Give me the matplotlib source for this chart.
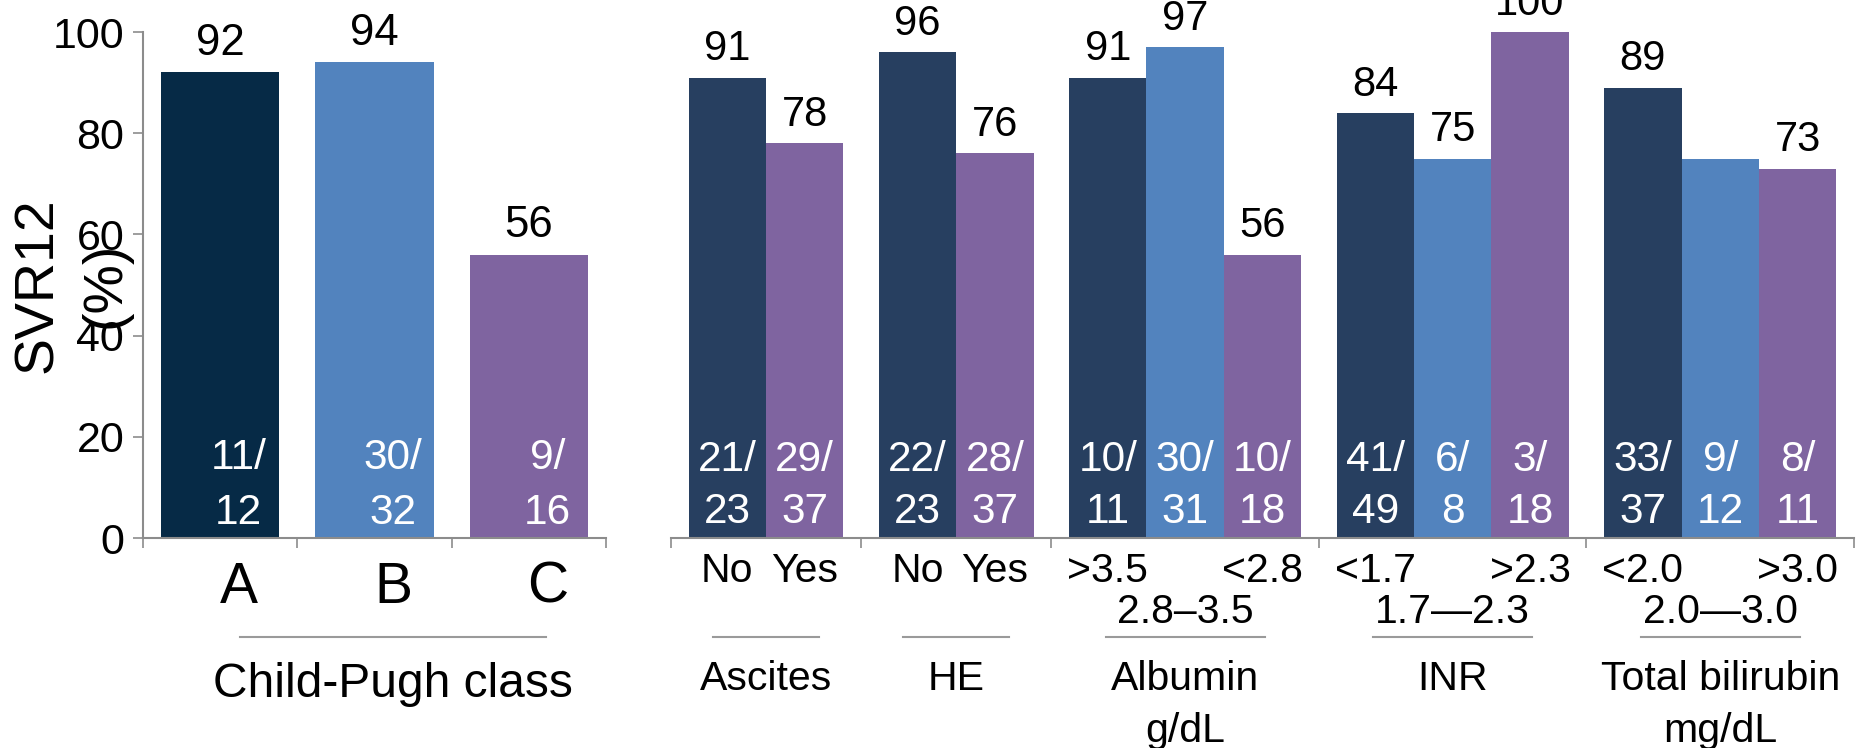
import matplotlib
matplotlib.use('Agg')
import matplotlib.pyplot as plt

plt.rcParams['font.family'] = ['Liberation Sans', 'DejaVu Sans']

# Child-Pugh class
cp_classes = ['A', 'B', 'C']
cp_svr = [92, 94, 56]
cp_counts = [('11/', '12'), ('30/', '32'), ('9/', '16')]
cp_colors = ['#062a46', '#5283be', '#7f64a0']

# Baseline characteristics
groups = ['Ascites', 'HE', 'Albumin\ng/dL', 'INR', 'Total bilirubin\nmg/dL']
sub_labels = [['No', 'Yes'], ['No', 'Yes'],
              ['>3.5', '2.8–3.5', '<2.8'],
              ['<1.7', '1.7—2.3', '>2.3'],
              ['<2.0', '2.0—3.0', '>3.0']]
svr = [[91, 78], [96, 76], [91, 97, 56], [84, 75, 100], [89, 75, 73]]
value_text = [['91', '78'], ['96', '76'], ['91', '97', '56'],
              ['84', '75', '100'], ['89', '', '73']]
counts = [[('21/', '23'), ('29/', '37')],
          [('22/', '23'), ('28/', '37')],
          [('10/', '11'), ('30/', '31'), ('10/', '18')],
          [('41/', '49'), ('6/', '8'), ('3/', '18')],
          [('33/', '37'), ('9/', '12'), ('8/', '11')]]

dark = '#273f60'
blue = '#5283be'
purple = '#7f64a0'
axis_grey = '#8c8c8c'
line_grey = '#9a9a9a'

fig = plt.figure(figsize=(18.59, 7.48), dpi=100)
ax1 = fig.add_axes([0.0769, 0.2807, 0.2491, 0.6765])
ax2 = fig.add_axes([0.3609, 0.2807, 0.6364, 0.6765])

for ax in (ax1, ax2):
    ax.set_ylim(0, 100)
    ax.spines['top'].set_visible(False)
    ax.spines['right'].set_visible(False)
    ax.spines['bottom'].set_color(axis_grey)
    ax.spines['bottom'].set_linewidth(1.5)
    ax.tick_params(axis='x', direction='out', length=7.5, width=1.2,
                   color=axis_grey, labelbottom=False)

# left panel
xs = [i + 0.5 for i in range(len(cp_classes))]
ax1.bar(xs, cp_svr, width=0.766, color=cp_colors)
ax1.set_xlim(0, 3)
ax1.set_xticks([0, 1, 2, 3])
ax1.set_yticks(range(0, 101, 20))
ax1.spines['left'].set_color(axis_grey)
ax1.spines['left'].set_linewidth(1.5)
ax1.tick_params(axis='y', direction='out', length=7.5, width=1.2,
                color=axis_grey, labelsize=31, pad=6)

shift = 0.12
for x, v, (num, den), lab in zip(xs, cp_svr, cp_counts, cp_classes):
    ax1.text(x, v + 3.4, str(v), ha='center', va='baseline', fontsize=31.5)
    ax1.text(x + 0.12, 13.6, num, ha='center', va='baseline',
             fontsize=30.5, color='white')
    ax1.text(x + 0.12, 2.8, den, ha='center', va='baseline',
             fontsize=30.5, color='white')
    ax1.text(x + shift, -12.8, lab, ha='center', va='baseline',
             fontsize=41, clip_on=False)

mid = 1.5 + shift
ax1.plot([mid - 0.99, mid + 0.99], [-19.6, -19.6], color=line_grey,
         lw=1.5, clip_on=False)
ax1.text(mid, -31.4, 'Child-Pugh class', ha='center', va='baseline',
         fontsize=34.5, clip_on=False)

fig.text(0.0385, 0.619, 'SVR12\n(%)', rotation=90, ha='center',
         va='center', multialignment='center', fontsize=40,
         linespacing=1.4)

# right panel
pad = 0.23
start = 0.0
edges = [0.0]
for g, labs, vals, vtxt, cnts in zip(groups, sub_labels, svr, value_text,
                                     counts):
    n = len(vals)
    cols = [dark, purple] if n == 2 else [dark, blue, purple]
    bx = [start + pad + 0.5 + i for i in range(n)]
    ax2.bar(bx, vals, width=1.0, color=cols)
    for i, (x, v, t, (num, den)) in enumerate(zip(bx, vals, vtxt, cnts)):
        if t:
            ax2.text(x, v + 3.4, t, ha='center', va='baseline', fontsize=30)
        ax2.text(x, 13.3, num, ha='center', va='baseline', fontsize=30.5,
                 color='white')
        ax2.text(x, 3.0, den, ha='center', va='baseline', fontsize=30.5,
                 color='white')
        # middle category of three goes on a second row
        row_y = -16.8 if (n == 3 and i == 1) else -8.7
        ax2.text(x, row_y, labs[i], ha='center', va='baseline',
                 fontsize=29.5, clip_on=False)
    gc = start + (n + 2 * pad) / 2
    half = 0.343 * n
    ax2.plot([gc - half, gc + half], [-19.6, -19.6], color=line_grey,
             lw=1.5, clip_on=False)
    for k, line in enumerate(g.split('\n')):
        ax2.text(gc, -30.0 - 10.3 * k, line, ha='center', va='baseline',
                 fontsize=29.5, clip_on=False)
    start += n + 2 * pad
    edges.append(start)

ax2.set_xlim(0, start)
ax2.set_xticks(edges)
ax2.spines['left'].set_visible(False)
ax2.set_yticks([])

fig.savefig('out.png', dpi=100)
